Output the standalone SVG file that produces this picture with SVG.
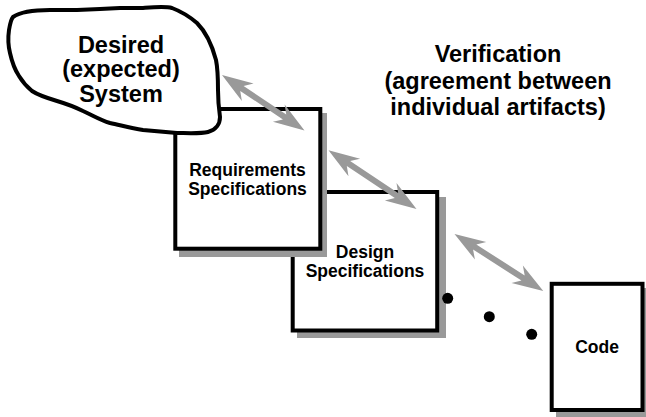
<svg xmlns="http://www.w3.org/2000/svg" width="646" height="417" viewBox="0 0 646 417">
<defs>
<style>
.box{fill:#fff;stroke:#000;stroke-width:4}
.shadow{fill:#999}
.arrow{fill:#999;stroke:none}
.dot{fill:#000}
text{font-family:"Liberation Sans",Arial,Helvetica,sans-serif;font-weight:bold;fill:#000;text-anchor:middle}
.big{font-size:23.5px}
.small{font-size:17.5px}
</style>
</defs>
<rect width="646" height="417" fill="#fff"/>
<g id="design">
<rect class="shadow" x="297" y="197" width="149" height="141"/>
<rect class="box" x="292.7" y="192" width="144.5" height="138.5"/>
<text class="small" x="365" y="258">Design</text>
<text class="small" x="365" y="276.5">Specifications</text>
</g>
<g id="requirements">
<rect class="shadow" x="179" y="113" width="148" height="144"/>
<rect class="box" x="175.3" y="109" width="145" height="139.7"/>
<text class="small" x="247.5" y="176">Requirements</text>
<text class="small" x="247.5" y="194.5">Specifications</text>
</g>
<g id="code">
<rect class="shadow" x="556" y="288" width="90" height="129"/>
<rect class="box" x="551.7" y="283.8" width="90.8" height="126.2"/>
<text class="small" x="597" y="352.5">Code</text>
</g>
<g id="system">
<path fill="#fff" stroke="#000" stroke-width="4" stroke-linejoin="round" d="M13,17 C20,12 35,10 50,10 L77,10 L100,9 L120,8 L143,8 C155,7 165,6 172,8 C180,11 190,17 197,23 C205,31 212,45 216,60 C218,70 218,80 218,90 C218,100 219,110 220,117 C220,124 216,130 208,132 C200,134 185,133 177,133 C165,132 155,131 143,130 C130,128 120,125 110,123 C100,120 92,115 83,111 C75,107 67,104 57,101 C47,98 38,95 32,91 C26,86 22,81 19,76 C15,70 12,62 10,53 C8,45 8,37 9,30 C10,24 11,19 13,17 Z"/>
<text class="big" x="121" y="52.5">Desired</text>
<text class="big" x="121" y="77">(expected)</text>
<text class="big" x="121" y="101.5">System</text>
</g>
<g id="connectors">
<path class="arrow" transform="translate(222,75) rotate(33.9)" d="M0,0 L31,-10.5 L24,-3 L75.4,-3 L68.4,-10.5 L99.4,0 L68.4,10.5 L75.4,3 L24,3 L31,10.5 Z"/>
<path class="arrow" transform="translate(328.5,150.3) rotate(33.66)" d="M0,0 L31,-10.5 L24,-3 L81.7,-3 L74.7,-10.5 L105.7,0 L74.7,10.5 L81.7,3 L24,3 L31,10.5 Z"/>
<path class="arrow" transform="translate(454.5,234) rotate(32.7)" d="M0,0 L31,-10.5 L24,-3 L81.5,-3 L74.5,-10.5 L105.5,0 L74.5,10.5 L81.5,3 L24,3 L31,10.5 Z"/>
<circle class="dot" cx="447.7" cy="298.3" r="5.5"/>
<circle class="dot" cx="489.3" cy="316.7" r="5.5"/>
<circle class="dot" cx="531.7" cy="334.3" r="5.5"/>
</g>
<g id="verification">
<text class="big" x="498" y="62">Verification</text>
<text class="big" x="498" y="88.5">(agreement between</text>
<text class="big" x="498" y="115">individual artifacts)</text>
</g>
</svg>
